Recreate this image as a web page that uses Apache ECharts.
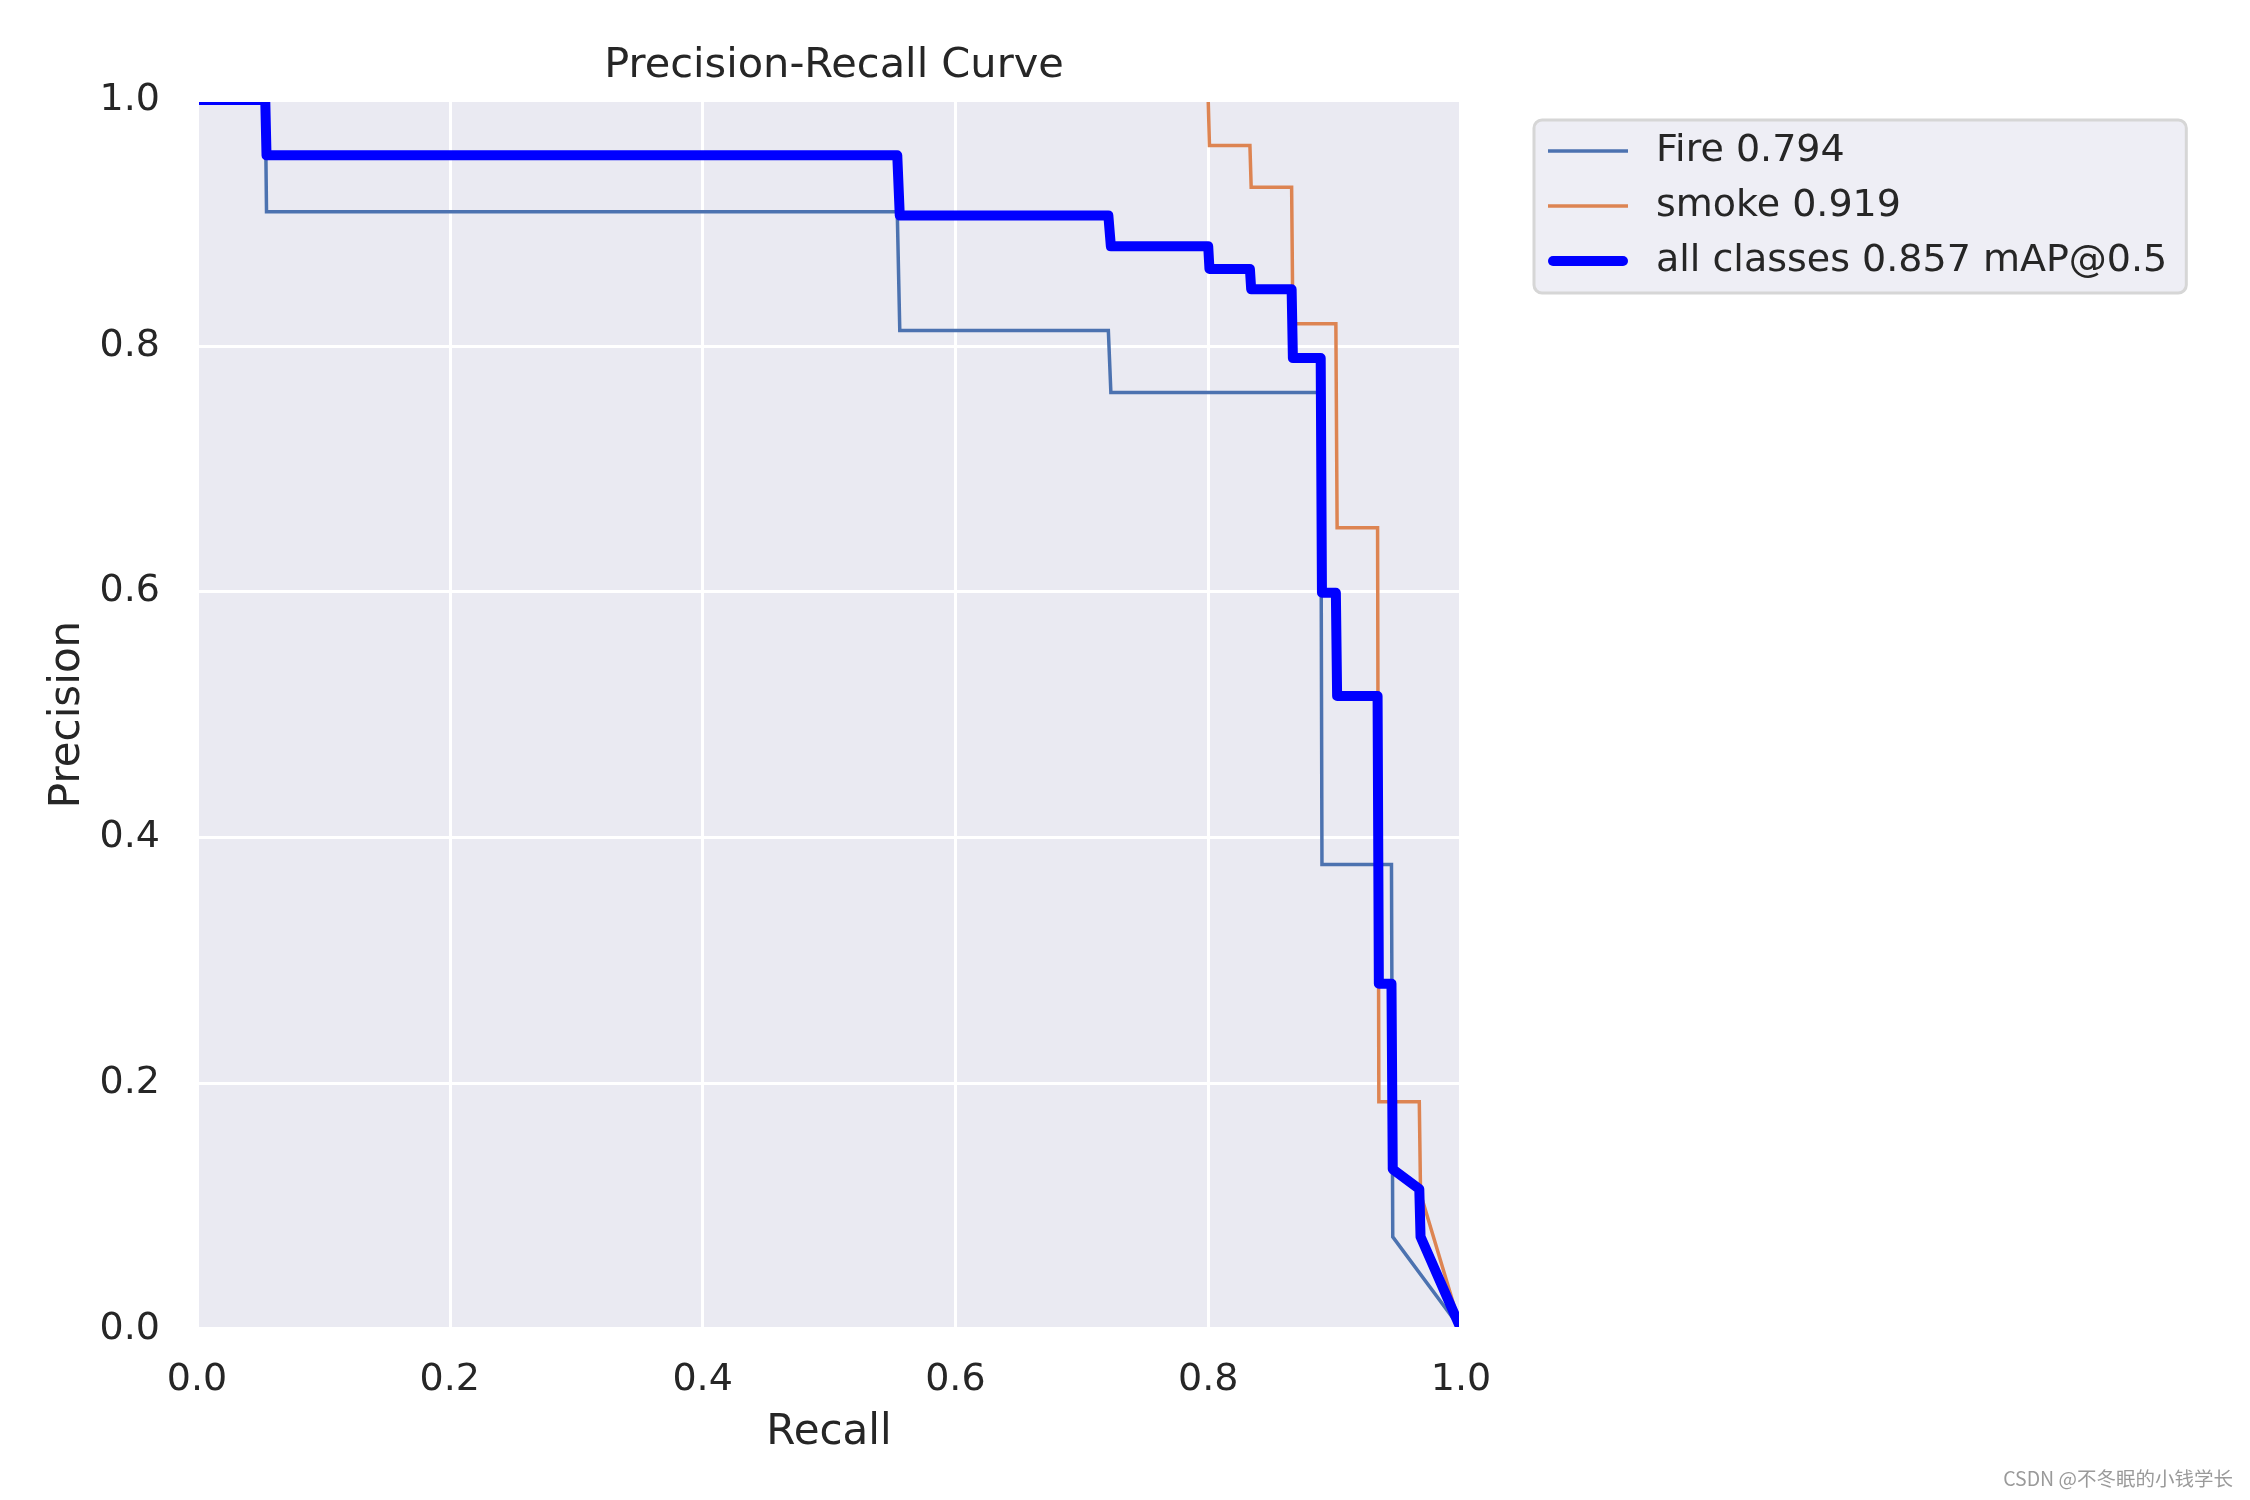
<!DOCTYPE html>
<html>
<head>
<meta charset="utf-8">
<script src="https://cdn.jsdelivr.net/npm/echarts@6/dist/echarts.min.js"></script>
<style>
html,body{margin:0;padding:0;background:#fff;}
#chart{width:2250px;height:1500px;}
</style>
</head>
<body>
<div id="chart"></div>
<script>
// ---- data (recall, precision) ----
const fireRecall    = [0, 0.054, 0.055, 0.554, 0.556, 0.721, 0.723, 0.889, 0.890, 0.945, 0.946, 1.0];
const firePrecision = [1.0, 1.0, 0.909, 0.909, 0.8125, 0.8125, 0.762, 0.762, 0.378, 0.378, 0.075, 0.0];

const smokeRecall    = [0, 0.800, 0.801, 0.833, 0.834, 0.866, 0.867, 0.901, 0.902, 0.934, 0.935, 0.967, 0.968, 1.0];
const smokePrecision = [1.0, 1.0, 0.963, 0.963, 0.929, 0.929, 0.818, 0.818, 0.652, 0.652, 0.185, 0.185, 0.11, 0.0];

const allRecall    = [0, 0.054, 0.055, 0.554, 0.556, 0.721, 0.723, 0.800, 0.801, 0.833, 0.834, 0.866, 0.867, 0.889, 0.890, 0.901, 0.902, 0.934, 0.935, 0.945, 0.946, 0.967, 0.968, 1.0];
const allPrecision = [1.0, 1.0, 0.955, 0.955, 0.906, 0.906, 0.881, 0.881, 0.8625, 0.8625, 0.846, 0.846, 0.790, 0.790, 0.599, 0.599, 0.515, 0.515, 0.281, 0.281, 0.130, 0.114, 0.075, 0.0];

const seriesNames = ['Fire 0.794', 'smoke 0.919', 'all classes 0.857 mAP@0.5'];
const axisTicks = [0, 0.2, 0.4, 0.6, 0.8, 1.0];
const titleText = 'Precision-Recall Curve';
const xName = 'Recall';
const yName = 'Precision';
const watermark = 'CSDN @不冬眠的小钱学长';

function pairs(xs, ys){ return xs.map((x,i)=>[x, ys[i]]); }

const FONT = "'DejaVu Sans', 'Noto Sans', sans-serif";
const TXT = '#262626';

const chart = echarts.init(document.getElementById('chart'), null, {renderer:'canvas'});

// white "spines" drawn over the curves, like seaborn's darkgrid frame
const spineAxis = (pos) => ({
  type:'value', position: pos, offset:3, min:0, max:1, interval:0.2, z: 10,
  axisLine:{show:true, onZero:false, lineStyle:{color:'#ffffff', width:10}},
  axisTick:{show:false}, axisLabel:{show:false}, splitLine:{show:false}
});

chart.setOption({
  backgroundColor:'#ffffff',
  animation:false,
  title:{
    text:titleText, left:829, top:40, textAlign:'center',
    textStyle:{fontFamily:FONT, fontSize:41.5, fontWeight:'normal', color:TXT}
  },
  grid:{
    left:197, right:789, top:100, bottom:171,
    show:true, backgroundColor:'#EAEAF2', borderWidth:0
  },
  xAxis:[{
    type:'value', position:'bottom', min:0, max:1, interval:0.2,
    name:xName, nameLocation:'middle', nameGap:83,
    nameTextStyle:{fontFamily:FONT, fontSize:42, color:TXT},
    axisLine:{show:false}, axisTick:{show:false},
    axisLabel:{fontFamily:FONT, fontSize:38, color:TXT, margin:32,
      formatter:v=>axisTicks.includes(Math.round(v*10)/10)?v.toFixed(1):''},
    splitLine:{show:true, lineStyle:{color:'#ffffff', width:3}}
  }, spineAxis('top'), spineAxis('bottom')],
  yAxis:[{
    type:'value', position:'left', min:0, max:1, interval:0.2,
    name:yName, nameLocation:'middle', nameGap:102, nameRotate:90,
    nameTextStyle:{fontFamily:FONT, fontSize:42, color:TXT},
    axisLine:{show:false}, axisTick:{show:false},
    axisLabel:{fontFamily:FONT, fontSize:38, color:TXT, margin:37, padding:[5,0,0,0],
      formatter:v=>v.toFixed(1)},
    splitLine:{show:true, lineStyle:{color:'#ffffff', width:3}}
  }, spineAxis('right'), spineAxis('left')],
  legend:{
    orient:'vertical', left:1534, top:120,
    padding:[12, 19, 13, 14],
    backgroundColor:'#EEEEF5', borderColor:'#D6D6D6', borderWidth:3, borderRadius:8,
    itemWidth:80, itemHeight:14, itemGap:17,
    textStyle:{fontFamily:FONT, fontSize:38, color:TXT, lineHeight:38, padding:[0,0,0,23]},
    data:[
      {name:seriesNames[0], icon:'path://M0,0H80V3.5H0Z'},
      {name:seriesNames[1], icon:'path://M0,0H80V3.5H0Z'},
      {name:seriesNames[2], icon:'path://M5,0H75A5,5,0,0,1,75,10H5A5,5,0,0,1,5,0Z'}
    ]
  },
  series:[
    {name:seriesNames[0], type:'line', data:pairs(fireRecall, firePrecision),
      showSymbol:false, symbol:'none', clip:true, color:'#4C72B0', z:2,
      lineStyle:{width:3.5, color:'#4C72B0', join:'miter'}},
    {name:seriesNames[1], type:'line', data:pairs(smokeRecall, smokePrecision),
      showSymbol:false, symbol:'none', clip:true, color:'#DD8452', z:3,
      lineStyle:{width:3.5, color:'#DD8452', join:'miter'}},
    {name:seriesNames[2], type:'line', data:pairs(allRecall, allPrecision),
      showSymbol:false, symbol:'none', clip:true, color:'#0000FF', z:4,
      lineStyle:{width:10, color:'#0000FF', join:'round', cap:'butt'}}
  ],
  graphic:[{
    type:'text', right:17, top:1469,
    style:{text:watermark, font:"19.5px 'Noto Sans CJK SC', sans-serif", fill:'#9a9a9a'}
  }]
});
</script>
</body>
</html>
